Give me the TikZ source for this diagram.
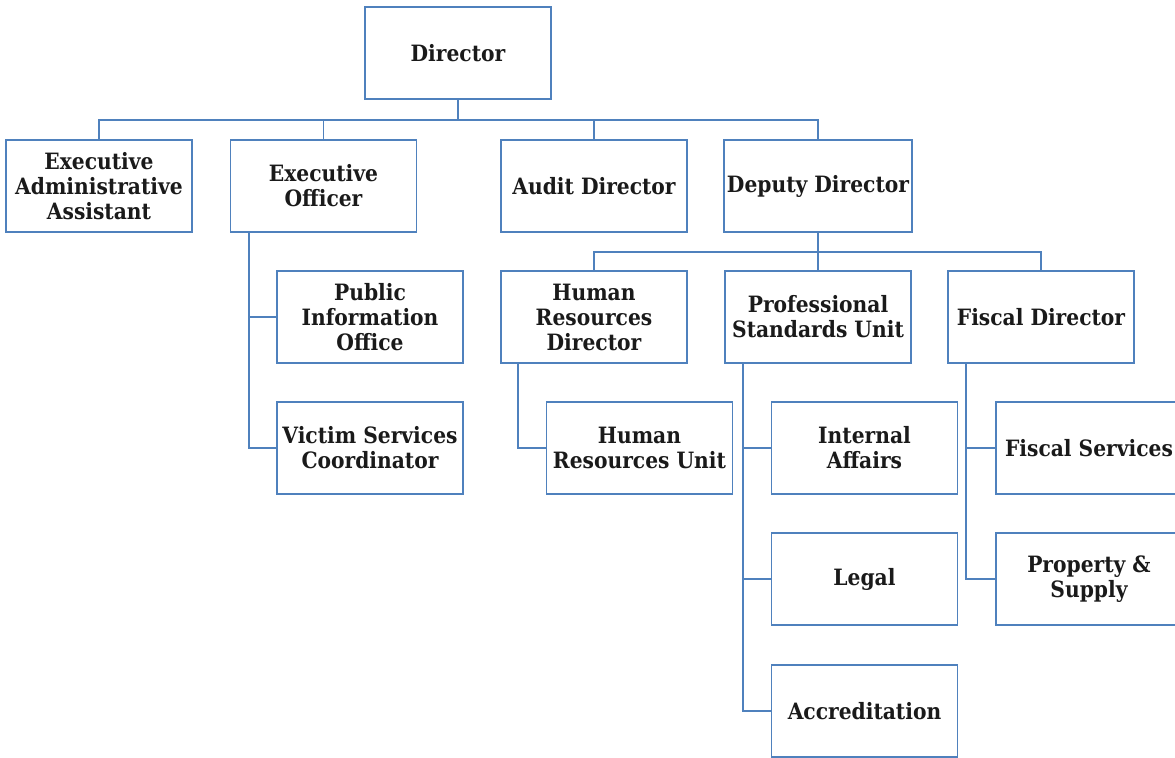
\documentclass[tikz,border=0pt]{standalone}
\usepackage{fontspec}
\setmainfont{DejaVu Serif Condensed}
\begin{document}
\definecolor{lineblue}{HTML}{4F81BD}
\definecolor{inkblack}{HTML}{1A1A1A}
\begin{tikzpicture}[x=0.025cm,y=-0.025cm,
  box/.style={draw=lineblue, line width=1.3pt, fill=white,
    minimum width=4.65cm, minimum height=2.3cm, inner sep=2pt,
    align=center, text=inkblack,
    font=\fontsize{16}{17.8}\selectfont\bfseries},
  link/.style={draw=lineblue, line width=1.3pt}]
\useasboundingbox (0,0) rectangle (1175,757);
\clip (0,0) rectangle (1175,757);

% top level
\node[box] (dir) at (458,53) {Director};

% second level
\node[box] (eaa) at (99,186)  {Executive\\Administrative\\Assistant};
\node[box] (eo)  at (323.5,186) {Executive\\Officer};
\node[box] (aud) at (594,186) {Audit Director};
\node[box] (dep) at (818,186) {Deputy Director};

% under the deputy director
\node[box] (hrd) at (594,317)  {Human\\Resources\\Director};
\node[box] (psu) at (818,317)  {Professional\\Standards Unit};
\node[box] (fd)  at (1041,317) {Fiscal Director};

% under the executive officer
\node[box] (pio) at (370,317) {Public\\Information\\Office};
\node[box] (vsc) at (370,448) {Victim Services\\Coordinator};

% units
\node[box] (hru) at (639.5,448) {Human\\Resources Unit};
\node[box] (ia)  at (864.5,448) {Internal\\Affairs};
\node[box] (leg) at (864.5,579) {Legal};
\node[box] (acc) at (864.5,711) {Accreditation};
\node[box] (fs)  at (1089,448)  {Fiscal Services};
\node[box] (ps)  at (1089,579)  {Property \&\\Supply};

% bus lines
\coordinate (b1) at (0,120);
\coordinate (b2) at (0,252);

\draw[link] (dir.south) -- (dir.south |- b1);
\draw[link] (eaa.north) -- (eaa.north |- b1) -- (dep.north |- b1) -- (dep.north);
\draw[link] (eo.north) -- (eo.north |- b1);
\draw[link] (aud.north) -- (aud.north |- b1);

\draw[link] (dep.south) -- (dep.south |- b2);
\draw[link] (hrd.north) -- (hrd.north |- b2) -- (fd.north |- b2) -- (fd.north);
\draw[link] (psu.north) -- (psu.north |- b2);

% trunks down the left side of a box
\coordinate (teo)  at ([xshift=0.49cm]eo.south west);
\coordinate (thrd) at ([xshift=0.45cm]hrd.south west);
\coordinate (tpsu) at ([xshift=0.48cm]psu.south west);
\coordinate (tfd)  at ([xshift=0.48cm]fd.south west);

\draw[link] (teo) |- (vsc.west);
\draw[link] (pio.west) -- (pio.west -| teo);
\draw[link] (thrd) |- (hru.west);
\draw[link] (tpsu) |- (acc.west);
\draw[link] (ia.west) -- (ia.west -| tpsu);
\draw[link] (leg.west) -- (leg.west -| tpsu);
\draw[link] (tfd) |- (ps.west);
\draw[link] (fs.west) -- (fs.west -| tfd);
\end{tikzpicture}
\end{document}
